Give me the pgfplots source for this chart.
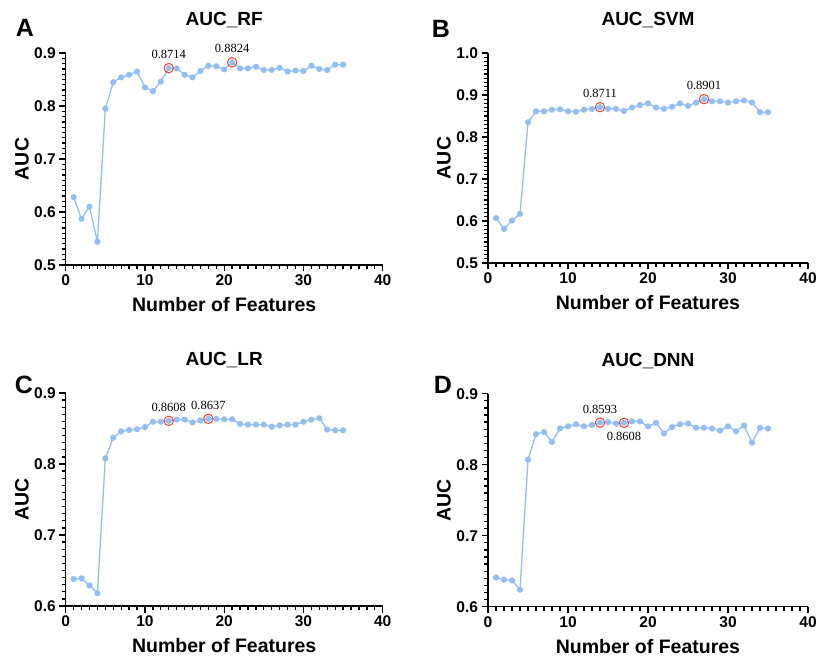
\documentclass[border=0pt]{standalone}
\usepackage{pgfplots}
\pgfplotsset{compat=1.18}
\usepackage{fontspec}
\setmainfont{Liberation Sans}
\newfontfamily\seriffont{Liberation Serif}
\definecolor{lb}{RGB}{145,190,245}
\definecolor{rc}{RGB}{235,70,50}
\pgfkeys{/pgf/number format/assume math mode=true}
\pgfplotsset{
 prism/.style={
  scale only axis,
  axis x line*=bottom, axis y line*=left,
  xmin=0, xmax=40, xtick={0,10,20,30,40}, minor x tick num=9, minor y tick num=9,
  xtick align=outside, ytick align=outside,
  major tick length=6.5bp, minor tick length=4bp,
  every tick/.append style={black, line width=1.3bp},
  every outer x axis line/.append style={line width=1.4bp},
  every outer y axis line/.append style={line width=1.4bp},
  ticklabel style={font=\bfseries\fontsize{15.5bp}{15.5bp}\selectfont},
  yticklabel={\pgfmathprintnumber[fixed, fixed zerofill, precision=1]{\tick}},
  xlabel={Number of Features},
  ylabel={AUC},
  xlabel style={font=\bfseries\fontsize{19.5bp}{19.5bp}\selectfont, at={(axis description cs:0.5,0)}, anchor=center, yshift=-40bp},
  ylabel style={font=\bfseries\fontsize{19.5bp}{19.5bp}\selectfont, at={(axis description cs:-0.138,0.5)}, anchor=center},
  title style={font=\bfseries\fontsize{19bp}{19bp}\selectfont, at={(axis description cs:0.5,1)}, anchor=center, yshift=27bp},
  clip mode=individual,
 },
 ser/.style={lb, line width=1.3bp, mark=*, mark size=2.4bp, mark options={fill=lb, draw=lb}},
 hi/.style={only marks, mark=o, mark size=4.7bp, rc, line width=1bp},
}
\newcommand{\ann}{\seriffont\fontsize{12.5bp}{12.5bp}\selectfont}
\begin{document}
\begin{tikzpicture}
\useasboundingbox (0,0) rectangle (816bp,658bp);
% Panel A
\begin{axis}[prism, width=317bp, height=212bp, at={(65.7bp,393bp)}, anchor=south west,
  ymin=0.5, ymax=0.9, ytick={0.5,0.6,0.7,0.8,0.9},
  title={AUC\_RF}]
\addplot[ser] coordinates {
(1,0.628) (2,0.587) (3,0.610) (4,0.544) (5,0.795) (6,0.845) (7,0.854) (8,0.859) (9,0.865) (10,0.835)
(11,0.828) (12,0.846) (13,0.8714) (14,0.871) (15,0.859) (16,0.854) (17,0.866) (18,0.876) (19,0.875) (20,0.869)
(21,0.8824) (22,0.871) (23,0.871) (24,0.874) (25,0.868) (26,0.868) (27,0.872) (28,0.865) (29,0.867) (30,0.866)
(31,0.876) (32,0.870) (33,0.868) (34,0.878) (35,0.878)};
\addplot[hi] coordinates {(13,0.8714) (21,0.8824)};
\node[font=\ann, anchor=center] at (axis cs:13,0.8714) [yshift=13.5bp] {0.8714};
\node[font=\ann, anchor=center] at (axis cs:21,0.8824) [yshift=13.5bp] {0.8824};
\end{axis}
% Panel B
\begin{axis}[prism, width=320bp, height=210bp, at={(488bp,395bp)}, anchor=south west,
  ymin=0.5, ymax=1.0, ytick={0.5,0.6,0.7,0.8,0.9,1.0},
  title={AUC\_SVM}]
\addplot[ser] coordinates {
(1,0.607) (2,0.581) (3,0.601) (4,0.617) (5,0.835) (6,0.861) (7,0.861) (8,0.865) (9,0.866) (10,0.861)
(11,0.860) (12,0.865) (13,0.867) (14,0.8711) (15,0.867) (16,0.867) (17,0.862) (18,0.870) (19,0.876) (20,0.880)
(21,0.870) (22,0.867) (23,0.872) (24,0.880) (25,0.874) (26,0.882) (27,0.8901) (28,0.885) (29,0.885) (30,0.882)
(31,0.885) (32,0.887) (33,0.882) (34,0.859) (35,0.859)};
\addplot[hi] coordinates {(14,0.8711) (27,0.8901)};
\node[font=\ann, anchor=center] at (axis cs:14,0.8711) [yshift=13.5bp] {0.8711};
\node[font=\ann, anchor=center] at (axis cs:27,0.8901) [yshift=13.5bp] {0.8901};
\end{axis}
% Panel C
\begin{axis}[prism, width=317bp, height=213bp, at={(65.7bp,52bp)}, anchor=south west,
  ymin=0.6, ymax=0.9, ytick={0.6,0.7,0.8,0.9},
  title={AUC\_LR}]
\addplot[ser] coordinates {
(1,0.638) (2,0.639) (3,0.629) (4,0.618) (5,0.808) (6,0.837) (7,0.846) (8,0.848) (9,0.849) (10,0.852)
(11,0.8595) (12,0.8595) (13,0.8608) (14,0.8625) (15,0.8625) (16,0.8585) (17,0.8615) (18,0.8637) (19,0.8635) (20,0.863)
(21,0.863) (22,0.8565) (23,0.8555) (24,0.8555) (25,0.8555) (26,0.8525) (27,0.8545) (28,0.8555) (29,0.8555) (30,0.8595)
(31,0.8625) (32,0.8645) (33,0.8485) (34,0.8475) (35,0.8475)};
\addplot[hi] coordinates {(13,0.8608) (18,0.8637)};
\node[font=\ann, anchor=center] at (axis cs:13,0.8608) [yshift=13.5bp] {0.8608};
\node[font=\ann, anchor=center] at (axis cs:18,0.8637) [yshift=13.5bp] {0.8637};
\end{axis}
% Panel D
\begin{axis}[prism, width=320bp, height=213bp, at={(488bp,51.3bp)}, anchor=south west,
  ymin=0.6, ymax=0.9, ytick={0.6,0.7,0.8,0.9},
  title={AUC\_DNN}]
\addplot[ser] coordinates {
(1,0.641) (2,0.638) (3,0.637) (4,0.624) (5,0.807) (6,0.843) (7,0.846) (8,0.832) (9,0.851) (10,0.854)
(11,0.857) (12,0.854) (13,0.856) (14,0.8593) (15,0.860) (16,0.858) (17,0.8590) (18,0.861) (19,0.861) (20,0.854)
(21,0.859) (22,0.844) (23,0.853) (24,0.857) (25,0.858) (26,0.852) (27,0.852) (28,0.851) (29,0.848) (30,0.854)
(31,0.847) (32,0.855) (33,0.831) (34,0.852) (35,0.851)};
\addplot[hi] coordinates {(14,0.8593) (17,0.8590)};
\node[font=\ann, anchor=center] at (axis cs:14,0.8593) [yshift=13.5bp] {0.8593};
\node[font=\ann, anchor=center] at (axis cs:17,0.8590) [yshift=-13.5bp] {0.8608};
\end{axis}
% panel letters
\node[font=\bfseries\fontsize{25bp}{25bp}\selectfont] at (25bp,630bp) {A};
\node[font=\bfseries\fontsize{25bp}{25bp}\selectfont] at (441bp,629bp) {B};
\node[font=\bfseries\fontsize{25bp}{25bp}\selectfont] at (24bp,273bp) {C};
\node[font=\bfseries\fontsize{25bp}{25bp}\selectfont] at (443bp,273bp) {D};
\end{tikzpicture}
\end{document}
